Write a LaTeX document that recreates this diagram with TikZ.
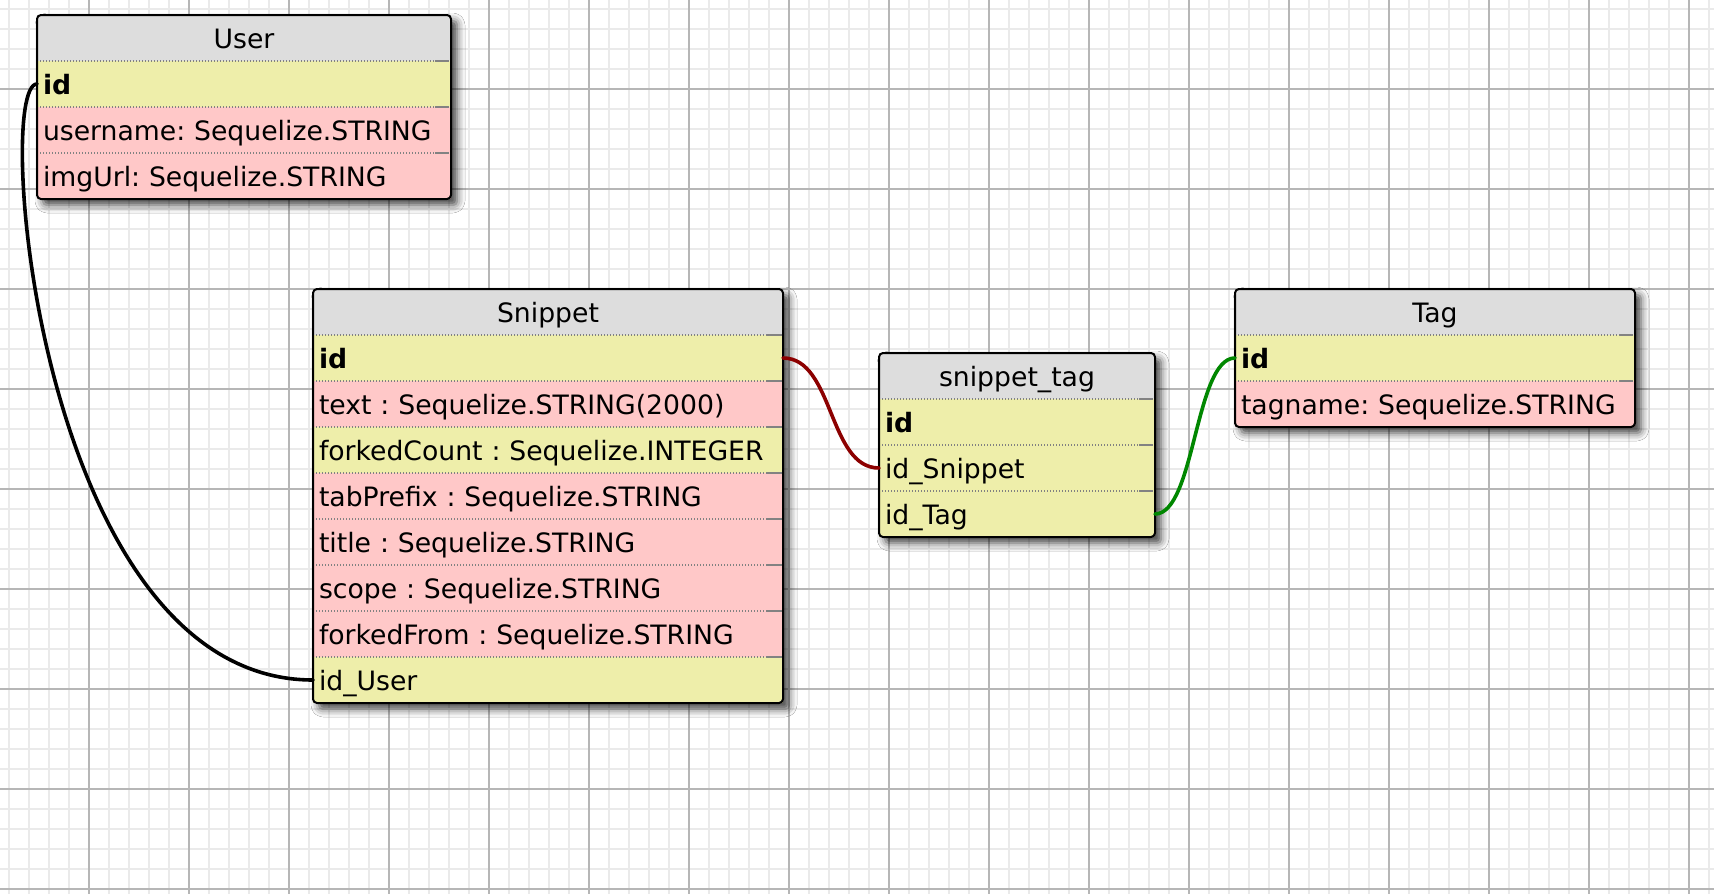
\documentclass[tikz,border=0pt]{standalone}
\usepackage{fontspec}
\setmainfont{DejaVu Sans}
\frenchspacing
\usepackage{tikz}
\usetikzlibrary{positioning, fit, backgrounds, shadows.blur}
\definecolor{sqlHead}{RGB}{221,221,221}
\definecolor{sqlNum}{RGB}{238,238,170}
\definecolor{sqlStr}{RGB}{255,200,200}
\definecolor{sqlSep}{RGB}{130,130,130}
\definecolor{gridMinor}{RGB}{234,234,234}
\definecolor{gridMajor}{RGB}{182,182,182}
\definecolor{relRed}{RGB}{140,0,0}
\definecolor{relGreen}{RGB}{0,135,0}
\tikzset{
    base/.style={
        font=\fontsize{13.33pt}{15pt}\selectfont,
        inner xsep=3pt,
        inner ysep=0pt,
        outer sep=0pt,
        minimum height=23pt,
        text height=10.5pt,
        text depth=0.3pt
    },
    header/.style={
        base,
        fill=sqlHead,
        align=center
    },
    field/.style={
        base,
        align=left,
        append after command={
            (\tikzlastnode.north west) edge[rowsep] (\tikzlastnode.north east)
            ([xshift=-8pt]\tikzlastnode.north east) edge[rowtick] ([xshift=-1pt]\tikzlastnode.north east)
        }
    },
    numfield/.style={field, fill=sqlNum},
    strfield/.style={field, fill=sqlStr},
    keyfield/.style={numfield, font=\fontsize{13.33pt}{15pt}\selectfont\bfseries},
    rowsep/.style={draw=sqlSep, line width=0.6pt, dash pattern=on 0.6pt off 0.9pt},
    rowtick/.style={draw=sqlSep, line width=0.6pt},
    tablebox/.style={
        draw=black,
        line width=1pt,
        rounded corners=2pt,
        inner sep=0pt
    },
    shadowbox/.style={
        fill=white,
        rounded corners=2pt,
        inner sep=0pt,
        blur shadow={shadow xshift=3pt, shadow yshift=-3pt, shadow blur radius=4pt, shadow opacity=75}
    },
    userw/.style={text width=201pt},
    snipw/.style={text width=229pt},
    stagw/.style={text width=132pt},
    tagw/.style={text width=194pt},
    relline/.style={line width=1.8pt, line cap=round},
    minorline/.style={draw=gridMinor, line width=1pt},
    majorline/.style={draw=gridMajor, line width=1pt}
}

\begin{document}
\begin{tikzpicture}[x=0.5pt, y=-0.5pt]
  \useasboundingbox (0,0) rectangle (1714,894);

  % Grid paper
  \begin{scope}[on background layer]
    \fill[white] (0,0) rectangle (1714,894);
    \foreach \x in {9,29,...,1709} \draw[minorline] (\x,0) -- (\x,894);
    \foreach \y in {9,29,...,889} \draw[minorline] (0,\y) -- (1714,\y);
    \foreach \x in {89,189,...,1689} \draw[majorline] (\x,0) -- (\x,894);
    \foreach \y in {89,189,...,889} \draw[majorline] (0,\y) -- (1714,\y);
  \end{scope}

  % User
  \node[header, userw, anchor=north west] (user-0) at (37,15) {User};
  \node[keyfield, userw, below=0pt of user-0] (user-1) {id};
  \node[strfield, userw, below=0pt of user-1] (user-2) {username: Sequelize.STRING};
  \node[strfield, userw, below=0pt of user-2] (user-3) {imgUrl: Sequelize.STRING};
  \node[tablebox, fit=(user-0)(user-3)] (user) {};

  % Snippet
  \node[header, snipw, anchor=north west] (snip-0) at (313,289) {Snippet};
  \node[keyfield, snipw, below=0pt of snip-0] (snip-1) {id};
  \node[strfield, snipw, below=0pt of snip-1] (snip-2) {text : Sequelize.STRING(2000)};
  \node[numfield, snipw, below=0pt of snip-2] (snip-3) {forkedCount : Sequelize.INTEGER};
  \node[strfield, snipw, below=0pt of snip-3] (snip-4) {tabPrefix : Sequelize.STRING};
  \node[strfield, snipw, below=0pt of snip-4] (snip-5) {title : Sequelize.STRING};
  \node[strfield, snipw, below=0pt of snip-5] (snip-6) {scope : Sequelize.STRING};
  \node[strfield, snipw, below=0pt of snip-6] (snip-7) {forkedFrom : Sequelize.STRING};
  \node[numfield, snipw, below=0pt of snip-7] (snip-8) {id\_User};
  \node[tablebox, fit=(snip-0)(snip-8)] (snip) {};

  % snippet_tag
  \node[header, stagw, anchor=north west] (stag-0) at (879,353) {snippet\_tag};
  \node[keyfield, stagw, below=0pt of stag-0] (stag-1) {id};
  \node[numfield, stagw, below=0pt of stag-1] (stag-2) {id\_Snippet};
  \node[numfield, stagw, below=0pt of stag-2] (stag-3) {id\_Tag};
  \node[tablebox, fit=(stag-0)(stag-3)] (stag) {};

  % Tag
  \node[header, tagw, anchor=north west] (tag-0) at (1235,289) {Tag};
  \node[keyfield, tagw, below=0pt of tag-0] (tag-1) {id};
  \node[strfield, tagw, below=0pt of tag-1] (tag-2) {tagname: Sequelize.STRING};
  \node[tablebox, fit=(tag-0)(tag-2)] (tag) {};

  % Shadows under the tables
  \begin{scope}[on background layer]
    \node[shadowbox, fit=(user-0)(user-3)] {};
    \node[shadowbox, fit=(snip-0)(snip-8)] {};
    \node[shadowbox, fit=(stag-0)(stag-3)] {};
    \node[shadowbox, fit=(tag-0)(tag-2)] {};
  \end{scope}

  % Relations
  \draw[relline] (user-1.west) .. controls +(-44,0) and +(-275,0) .. (snip-8.west);
  \draw[relline, relRed] (snip-1.east) .. controls +(51,0) and +(-51,0) .. (stag-2.west);
  \draw[relline, relGreen] (stag-3.east) .. controls +(40,0) and +(-40,0) .. (tag-1.west);
\end{tikzpicture}
\end{document}
